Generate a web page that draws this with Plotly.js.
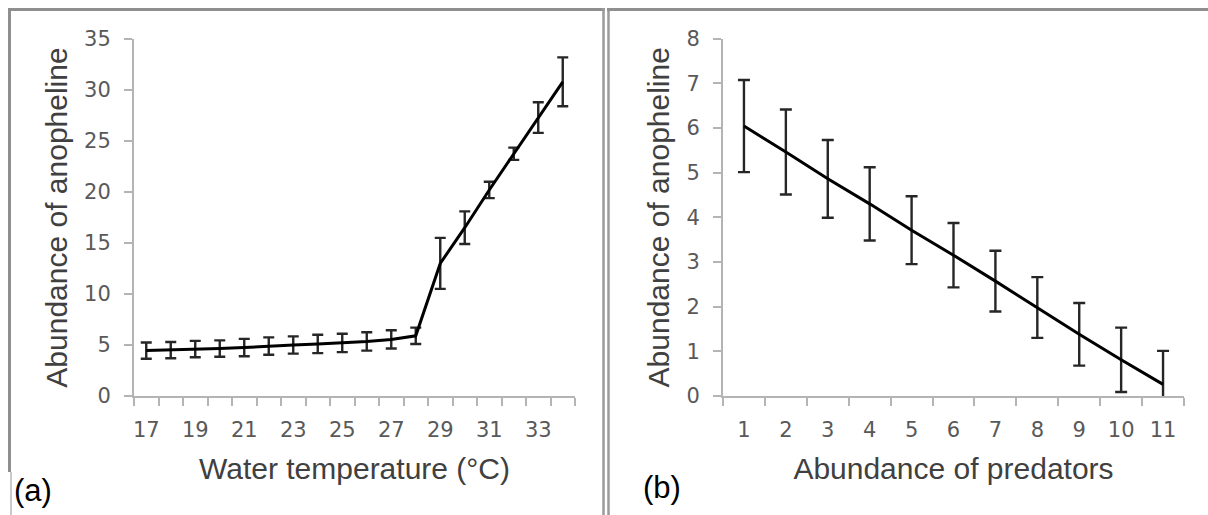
<!DOCTYPE html>
<html>
<head>
<meta charset="utf-8">
<script src="https://cdn.plot.ly/plotly-3.0.1.min.js"></script>
<style>
  html, body { margin: 0; padding: 0; background: #ffffff; }
  #chart { width: 1208px; height: 515px; }
</style>
</head>
<body>
<div id="chart"></div>
<script>
// ---- Data ----
// Panel (a): water temperature vs abundance of anopheline
const waterTemp = [17, 18, 19, 20, 21, 22, 23, 24, 25, 26, 27, 28, 29, 30, 31, 32, 33, 34];
const anophelineByTemp = [4.45, 4.5, 4.6, 4.65, 4.75, 4.9, 5.0, 5.1, 5.2, 5.35, 5.55, 5.9, 13.0, 16.5, 20.2, 23.75, 27.3, 30.8];
const anophelineByTempErr = [0.8, 0.8, 0.8, 0.8, 0.85, 0.85, 0.85, 0.9, 0.9, 0.9, 0.9, 0.8, 2.5, 1.6, 0.8, 0.6, 1.5, 2.4];

// Panel (b): abundance of predators vs abundance of anopheline
const predators = [1, 2, 3, 4, 5, 6, 7, 8, 9, 10, 11];
const anophelineByPred = [6.04, 5.46, 4.86, 4.3, 3.71, 3.15, 2.57, 1.98, 1.38, 0.81, 0.26];
const anophelineByPredErr = [1.03, 0.95, 0.87, 0.82, 0.76, 0.72, 0.68, 0.68, 0.7, 0.72, 0.75];

// Text
const yTitle = "Abundance of anopheline";
const xTitleA = "Water temperature (°C)";
const xTitleB = "Abundance of predators";
const panelLabels = ["(a)", "(b)"];

// ---- Styling helpers ----
const W = 1208, H = 515;
const px = v => v / W;
const py = v => 1 - v / H;

const axisGray = "#b4b4b4";
const tickFont = { family: "'DejaVu Sans', sans-serif", size: 21, color: "#595959" };
const titleFont = { family: "'Liberation Sans', Arial, sans-serif", size: 30, color: "#404040" };

function lineTrace(x, y, err, xa, ya, capw) {
  return {
    type: "scatter", mode: "lines", x: x, y: y, xaxis: xa, yaxis: ya,
    line: { color: "#000000", width: 3 },
    error_y: { type: "data", array: err, visible: true, color: "#262626", thickness: 2.4, width: capw },
    showlegend: false, hoverinfo: "x+y"
  };
}

const data = [
  lineTrace(waterTemp, anophelineByTemp, anophelineByTempErr, "x", "y", 5.5),
  lineTrace(predators, anophelineByPred, anophelineByPredErr, "x2", "y2", 6)
];

function xAxis(domain, range, first, anchor, titleText) {
  return {
    domain: domain, anchor: anchor, range: range,
    tickmode: "linear", tick0: first, dtick: 2,
    ticks: "", showgrid: false, zeroline: false,
    showline: true, linecolor: axisGray, linewidth: 2,
    tickfont: tickFont, ticklabelstandoff: 14,
    minor: { tick0: range[0], dtick: 1, ticks: "outside", ticklen: 8, tickwidth: 2, tickcolor: axisGray, showgrid: false },
    title: { text: titleText, font: titleFont, standoff: 17 },
    fixedrange: true
  };
}
function yAxis(domain, range, dtick, anchor) {
  return {
    domain: domain, anchor: anchor, range: range,
    tickmode: "linear", tick0: 0, dtick: dtick,
    ticks: "outside", ticklen: 8, tickwidth: 2, tickcolor: axisGray,
    showgrid: false, zeroline: false,
    showline: true, linecolor: axisGray, linewidth: 2,
    tickfont: tickFont, ticklabelstandoff: 9,
    title: { text: yTitle, font: titleFont, standoff: 8 },
    fixedrange: true
  };
}

const xa = xAxis([px(134), px(575)], [16.5, 34.5], 17, "y", xTitleA);
const xb = xAxis([px(723), px(1184)], [0.5, 11.5], 1, "y2", xTitleB);
xb.dtick = 1;

const borderDark = "#8f8f8f";
const shapes = [
  // panel (a) frame
  { type: "line", xref: "paper", yref: "paper", x0: px(9.5), x1: px(9.5), y0: py(8), y1: py(472), line: { color: borderDark, width: 3 } },
  { type: "line", xref: "paper", yref: "paper", x0: px(11), x1: px(11), y0: py(472), y1: py(515), line: { color: "#b8b8b8", width: 1.5 } },
  { type: "line", xref: "paper", yref: "paper", x0: px(8), x1: px(605), y0: py(9.5), y1: py(9.5), line: { color: borderDark, width: 3 } },
  // divider (double line)
  { type: "line", xref: "paper", yref: "paper", x0: px(603.5), x1: px(603.5), y0: py(8), y1: py(515), line: { color: "#9a9a9a", width: 2.5 } },
  { type: "line", xref: "paper", yref: "paper", x0: px(608.5), x1: px(608.5), y0: py(8), y1: py(515), line: { color: "#9a9a9a", width: 2.5 } },
  // panel (b) top
  { type: "line", xref: "paper", yref: "paper", x0: px(607), x1: 1, y0: py(9.5), y1: py(9.5), line: { color: borderDark, width: 3 } }
];

const labelFont = { family: "'Liberation Sans', Arial, sans-serif", size: 31, color: "#000000" };
const annotations = [
  { xref: "paper", yref: "paper", x: px(33), y: py(490), text: panelLabels[0], showarrow: false, font: labelFont, xanchor: "center", yanchor: "middle" },
  { xref: "paper", yref: "paper", x: px(662), y: py(487), text: panelLabels[1], showarrow: false, font: labelFont, xanchor: "center", yanchor: "middle" }
];

const layout = {
  width: W, height: H,
  margin: { l: 0, r: 0, t: 0, b: 0, pad: 0 },
  paper_bgcolor: "#ffffff", plot_bgcolor: "#ffffff",
  xaxis: xa,
  yaxis: yAxis([py(396), py(39)], [0, 35], 5, "x"),
  xaxis2: xb,
  yaxis2: yAxis([py(396), py(38.5)], [0, 8], 1, "x2"),
  shapes: shapes,
  annotations: annotations,
  showlegend: false
};

Plotly.newPlot("chart", data, layout, { displayModeBar: false, staticPlot: true });
</script>
</body>
</html>
